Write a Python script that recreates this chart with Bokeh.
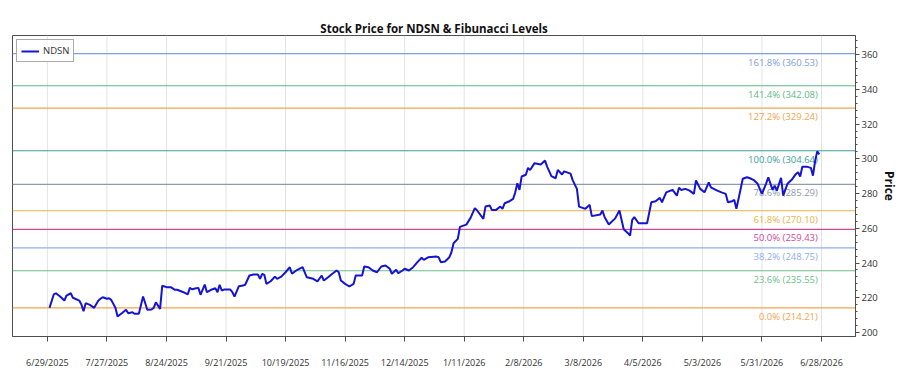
from datetime import datetime, timedelta
from bokeh.plotting import figure
from bokeh.models import (Range1d, LinearAxis, FixedTicker, SingleIntervalTicker, Title,
                          CustomJSTickFormatter, Span, ColumnDataSource, Legend, LegendItem)
from bokeh.core.properties import value
from bokeh.embed import file_html
from bokeh.resources import INLINE

TITLE = "Stock Price for NDSN & Fibunacci Levels"
TICKER = "NDSN"
START = datetime(2025, 6, 29)

day_offsets = [1, 3, 4, 6, 8, 9, 11, 12, 15, 16, 17, 18, 20, 22, 24, 25, 26, 28, 29, 30, 32, 33, 35, 37, 38, 40, 41, 43,
               45, 47, 49, 50, 51, 53, 54, 56, 58, 60, 61, 64, 66, 67, 68, 70, 71, 72, 74, 75, 77, 79, 80, 81, 82, 83,
               86, 87, 88, 90, 92, 93, 95, 97, 99, 100, 101, 102, 103, 105, 107, 108, 110, 112, 114, 115, 117, 118,
               120, 122, 125, 127, 129, 130, 132, 134, 136, 137, 138, 140, 142, 144, 145, 148, 149, 151, 153, 155,
               157, 159, 161, 162, 164, 165, 167, 168, 170, 172, 174, 176, 177, 179, 183, 184, 185, 187, 189, 190,
               191, 193, 194, 197, 199, 201, 202, 205, 206, 208, 209, 211, 213, 214, 215, 217, 219, 220, 221, 222,
               223, 225, 226, 227, 229, 232, 234, 235, 237, 239, 240, 242, 243, 246, 247, 249, 250, 253, 255, 256,
               260, 261, 262, 264, 267, 269, 271, 273, 274, 275, 276, 278, 282, 284, 286, 288, 289, 291, 293, 294,
               296, 297, 298, 300, 302, 304, 305, 307, 309, 311, 312, 315, 317, 319, 320, 322, 323, 324, 327, 329,
               331, 332, 334, 336, 338, 339, 341, 342, 343, 345, 346, 348, 350, 352, 353, 354, 355, 357, 359, 360,
               361, 362, 363]
prices = [214.2, 221.9, 222.6, 220.7, 218.4, 221.3, 222.6, 220.0, 218.4, 216.1, 212.3, 216.9, 215.9, 214.2, 218.4,
          219.4, 220.3, 219.4, 219.7, 218.8, 214.2, 209.2, 211.1, 213.1, 211.1, 211.7, 210.8, 210.8, 220.7, 213.1,
          213.2, 214.2, 217.4, 213.6, 226.9, 226.1, 226.1, 224.6, 224.6, 223.2, 221.9, 225.7, 224.9, 225.5, 225.7,
          221.7, 227.6, 223.2, 224.6, 225.5, 223.2, 227.5, 224.2, 224.7, 224.7, 223.2, 220.7, 226.6, 227.0, 227.5,
          232.8, 233.4, 233.4, 230.9, 233.8, 233.2, 228.0, 229.5, 232.2, 230.9, 232.2, 234.7, 237.6, 233.8, 235.7,
          236.4, 237.6, 231.8, 230.9, 229.4, 232.8, 229.9, 231.8, 233.8, 235.7, 234.7, 229.9, 228.0, 226.5, 228.0,
          232.8, 232.8, 238.0, 237.6, 235.7, 234.7, 238.0, 238.6, 236.7, 233.8, 236.1, 234.1, 235.7, 236.7, 235.7,
          237.6, 240.5, 243.0, 241.8, 243.3, 243.7, 243.3, 240.5, 240.9, 243.3, 246.2, 251.4, 253.9, 260.8, 262.1,
          266.0, 271.6, 270.4, 265.4, 272.5, 273.1, 270.6, 270.6, 272.5, 271.2, 274.4, 275.4, 276.9, 280.7, 285.9,
          282.1, 289.8, 290.8, 294.8, 293.6, 297.4, 296.7, 299.0, 295.5, 290.0, 288.8, 293.6, 291.0, 292.8, 291.5,
          287.7, 282.7, 272.5, 271.2, 273.5, 267.0, 267.9, 270.2, 266.5, 262.2, 265.7, 270.2, 259.4, 257.2, 255.8,
          264.9, 266.4, 262.9, 262.9, 275.0, 275.6, 277.5, 275.0, 280.7, 281.7, 282.1, 278.8, 283.3, 282.1, 282.7,
          281.7, 279.8, 287.5, 282.7, 280.7, 286.5, 283.6, 281.7, 280.7, 279.8, 275.0, 275.6, 276.3, 271.2, 288.5,
          289.4, 288.5, 287.9, 285.6, 279.8, 285.9, 289.4, 282.1, 284.6, 281.7, 289.0, 278.8, 285.6, 287.9, 291.3,
          292.3, 289.8, 295.5, 295.5, 294.8, 290.3, 298.6, 304.3, 302.6]

fib_pcts = [0.0, 23.6, 38.2, 50.0, 61.8, 78.6, 100.0, 127.2, 141.4, 161.8]
fib_levels = [214.21, 235.55, 248.75, 259.43, 270.10, 285.29, 304.64, 329.24, 342.08, 360.53]
fib_colors = ["#f4a34c", "#6cc08a", "#8eaef0", "#d0479a", "#e8b245", "#8f9aaa", "#3d9e9a", "#f4a34c", "#5dbb84", "#7ea0dc"]

x_tick_offsets = [0, 28, 56, 84, 112, 140, 168, 196, 224, 252, 280, 308, 336, 364]

dates = [START + timedelta(days=d) for d in day_offsets]
tick_ms = [(START + timedelta(days=d) - datetime(1970, 1, 1)).total_seconds() * 1000 for d in x_tick_offsets]

FONT = "Open Sans"
X0 = START + timedelta(days=-16.4)
X1 = START + timedelta(days=380)

p = figure(width=900, height=375, output_backend="svg", toolbar_location=None,
           x_axis_type="datetime", y_axis_location=None,
           x_range=Range1d(X0, X1),
           y_range=Range1d(197.7, 371.0),
           min_border_left=12, min_border_right=42, min_border_top=35, min_border_bottom=39)

# built-in title left empty; the real title then a small spacer title are stacked above the frame
p.title.text = ""
p.add_layout(Title(text=TITLE, align="center", standoff=0, text_font=FONT, text_font_size="11.5px",
                   text_font_style="bold", text_color="#111111"), "above")
p.add_layout(Title(text=" ", text_font_size="3px", standoff=0), "above")

p.outline_line_color = "#4d4d4d"
p.outline_line_width = 1
p.background_fill_color = "white"
p.border_fill_color = "white"

xaxis = p.xaxis[0]
xaxis.ticker = FixedTicker(ticks=tick_ms)
xaxis.formatter = CustomJSTickFormatter(code="""
const d = new Date(tick);
return (d.getUTCMonth()+1) + '/' + d.getUTCDate() + '/' + d.getUTCFullYear();
""")
xaxis.major_label_text_font = FONT
xaxis.major_label_text_font_size = "9px"
xaxis.major_label_text_color = "#333333"
xaxis.major_label_standoff = 14
xaxis.axis_line_color = "#4d4d4d"
xaxis.major_tick_line_color = "#4d4d4d"
xaxis.major_tick_out = 5
xaxis.major_tick_in = 0
xaxis.minor_tick_line_color = None

yaxis = LinearAxis(ticker=SingleIntervalTicker(interval=20, num_minor_ticks=5))
yaxis.axis_label = "Price"
yaxis.axis_label_text_font = FONT
yaxis.axis_label_text_font_size = "12px"
yaxis.axis_label_text_font_style = "bold"
yaxis.axis_label_text_color = "#111111"
yaxis.axis_label_standoff = 0
yaxis.major_label_text_font = FONT
yaxis.major_label_text_font_size = "9.5px"
yaxis.major_label_text_color = "#333333"
yaxis.major_label_standoff = 2
yaxis.axis_line_color = "#4d4d4d"
yaxis.major_tick_line_color = "#4d4d4d"
yaxis.major_tick_out = 4
yaxis.major_tick_in = 0
yaxis.minor_tick_line_color = "#4d4d4d"
yaxis.minor_tick_out = 2
yaxis.minor_tick_in = 0
p.add_layout(yaxis, "right")

p.xgrid.grid_line_color = None
p.ygrid.grid_line_color = None

for t in tick_ms:
    p.add_layout(Span(location=t, dimension="height", line_color="#e3e3e3", line_width=1, level="underlay"))

for lvl, col in zip(fib_levels, fib_colors):
    p.add_layout(Span(location=lvl, dimension="width", line_color=col, line_width=1.2, level="underlay"))

label_src = ColumnDataSource(dict(
    x=[START + timedelta(days=362.3)] * len(fib_levels),
    y=fib_levels,
    text=[f"{pc:.1f}% ({lv:.2f})" for pc, lv in zip(fib_pcts, fib_levels)],
    color=fib_colors,
))
p.text(x="x", y="y", text="text", text_color="color", source=label_src,
       text_align="right", text_baseline="top", y_offset=2,
       text_font=value(FONT), text_font_size="9.5px")

src = ColumnDataSource(dict(x=dates, y=prices))
line = p.line(x="x", y="y", source=src, line_color="#1414d2", line_width=2)

legend = Legend(items=[LegendItem(label=TICKER, renderers=[line])], location="top_left")
legend.label_text_font = FONT
legend.label_text_font_size = "9.5px"
legend.label_text_color = "#333333"
legend.border_line_color = "#555555"
legend.border_line_width = 1
legend.margin = 4
legend.padding = 4
legend.glyph_width = 18
legend.glyph_height = 10
legend.label_standoff = 4
legend.label_height = 10
legend.spacing = 0
p.add_layout(legend)

open("out.html", "w").write(file_html(p, INLINE))
